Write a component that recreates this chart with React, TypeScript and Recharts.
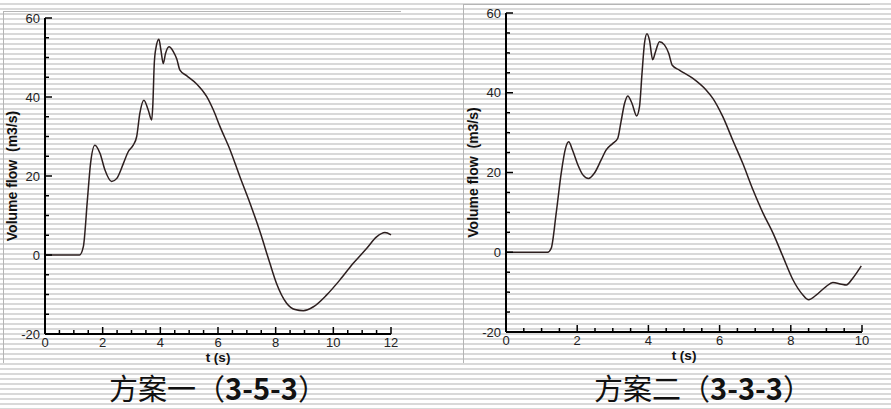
import React from 'react';
import { LineChart, Line, XAxis, YAxis } from 'recharts';

// ---- 方案一 (3-5-3) ----
const time1 = [0, 1.2, 1.33, 1.47, 1.58, 1.73, 1.91, 2.08, 2.31, 2.49, 2.72, 2.89, 3.06, 3.18, 3.29, 3.43, 3.58, 3.7, 3.74, 3.79, 3.85, 3.95, 4.02, 4.1, 4.18, 4.3, 4.45, 4.57, 4.68, 4.91, 5.26, 5.61, 5.84, 6.07, 6.42, 6.76, 7.11, 7.46, 7.8, 8.03, 8.38, 8.67, 8.96, 9.31, 9.77, 10.23, 10.69, 11.16, 11.5, 11.79, 12.0];
const flow1 = [0, 0, 2.1, 13.9, 23.2, 27.8, 25.7, 21.5, 18.6, 19.4, 23.2, 26.2, 27.8, 30, 35.9, 39.2, 36.7, 34.2, 38, 48.5, 52.5, 54.6, 51.9, 48.5, 51, 52.7, 51.5, 49.6, 46.8, 45.4, 43.3, 40.1, 36.7, 32.5, 26.6, 19.8, 13.1, 5.8, -2.1, -7.2, -12.2, -13.8, -14.1, -13.1, -10.1, -6.3, -2.1, 1.7, 4.6, 5.7, 5.1];
const xTicks1 = [0, 0.5, 1, 1.5, 2, 2.5, 3, 3.5, 4, 4.5, 5, 5.5, 6, 6.5, 7, 7.5, 8, 8.5, 9, 9.5, 10, 10.5, 11, 11.5, 12];

// ---- 方案二 (3-3-3) ----
const time2 = [0, 1.17, 1.27, 1.41, 1.55, 1.67, 1.76, 1.87, 2.02, 2.16, 2.32, 2.48, 2.67, 2.81, 3.0, 3.14, 3.23, 3.33, 3.42, 3.54, 3.67, 3.75, 3.82, 3.89, 3.96, 4.03, 4.12, 4.2, 4.31, 4.45, 4.57, 4.67, 4.87, 5.25, 5.62, 5.81, 6.09, 6.37, 6.65, 6.94, 7.22, 7.5, 7.78, 8.06, 8.34, 8.5, 8.72, 8.99, 9.18, 9.42, 9.56, 9.74, 9.98];
const flow2 = [0, 0, 1, 9.8, 19.8, 26, 27.7, 25.6, 21.9, 19.4, 18.5, 19.8, 23.1, 25.6, 27.3, 28.6, 32.7, 37.3, 39.2, 37.3, 34.2, 36.5, 44.8, 52.4, 54.8, 53.2, 48.3, 50.3, 52.8, 52, 49.9, 46.9, 45.7, 43.6, 40.7, 38.6, 34, 28.1, 22.3, 15.6, 9.8, 4.8, -1.1, -6.9, -10.7, -11.9, -10.7, -8.6, -7.6, -8, -8.2, -6.5, -3.4];
const xTicks2 = [0, 0.5, 1, 1.5, 2, 2.5, 3, 3.5, 4, 4.5, 5, 5.5, 6, 6.5, 7, 7.5, 8, 8.5, 9, 9.5, 10];

const yTicks = [-20, -15, -10, -5, 0, 5, 10, 15, 20, 25, 30, 35, 40, 45, 50, 55, 60];

const xTitle = 't (s)';
const yTitle = 'Volume flow  (m3/s)';
const caption1 = '方案一';
const captionOpen = '（';
const caption1c = '3-5-3';
const caption2 = '方案二';
const caption2c = '3-3-3';
const captionEnd = '）';

const data1 = time1.map((t, i) => ({ t, q: flow1[i] }));
const data2 = time2.map((t, i) => ({ t, q: flow2[i] }));

const tickFont = '"Liberation Sans", Arial, sans-serif';

const XTick = (props: any) => {
  const { x, y, payload } = props;
  const v = payload.value;
  const major = v % 2 === 0;
  return (
    <g>
      <line x1={x} x2={x} y1={y} y2={y - (major ? 7 : 4)} stroke="#000" strokeWidth={1.5} />
      {major && (
        <text x={x} y={y + 12.5} textAnchor="middle" fontSize={13} fill="#222" fontFamily={tickFont}>
          {v}
        </text>
      )}
    </g>
  );
};

const YTick = (props: any) => {
  const { x, y, payload } = props;
  const v = payload.value;
  const major = v % 20 === 0;
  return (
    <g>
      <line x1={x} x2={x + (major ? 7 : 4)} y1={y} y2={y} stroke="#000" strokeWidth={1.5} />
      {major && (
        <text x={x - 5} y={y + 4.5} textAnchor="end" fontSize={13} fill="#222" fontFamily={tickFont}>
          {v}
        </text>
      )}
    </g>
  );
};

const XTitle = (props: any) => {
  const vb = props.viewBox || { x: 0, y: 0, width: 0, height: 0 };
  return (
    <text x={vb.x + vb.width / 2} y={vb.y + 28} textAnchor="middle" fontSize={13.5} fontWeight="bold" fill="#111" fontFamily={tickFont} style={{ whiteSpace: 'pre' }}>
      {xTitle}
    </text>
  );
};

const YTitle = (props: any) => {
  const vb = props.viewBox || { x: 0, y: 0, width: 0, height: 0 };
  const cx = vb.x + props.dx;
  const cy = vb.y + vb.height / 2;
  return (
    <text x={cx} y={cy} transform={`rotate(-90 ${cx} ${cy})`} textAnchor="middle" dominantBaseline="central" fontSize={14} fontWeight="bold" fill="#111" fontFamily={tickFont} style={{ whiteSpace: 'pre' }}>
      {yTitle}
    </text>
  );
};

const Chart = ({ data, xTicks, xMax, width, margin, yWidth, xHeight, titleDx }: any) => (
  <LineChart width={width} height={370} data={data} margin={margin}>
    <XAxis
      dataKey="t"
      type="number"
      domain={[0, xMax]}
      ticks={xTicks}
      interval={0}
      tickSize={0}
      tickMargin={0}
      tickLine={false}
      height={xHeight}
      axisLine={{ stroke: '#000', strokeWidth: 2 }}
      tick={(p: any) => <XTick {...p} />}
      label={<XTitle />}
    />
    <YAxis
      type="number"
      domain={[-20, 60]}
      ticks={yTicks}
      interval={0}
      tickSize={0}
      tickMargin={0}
      tickLine={false}
      width={yWidth}
      axisLine={{ stroke: '#000', strokeWidth: 2 }}
      tick={(p: any) => <YTick {...p} />}
      label={<YTitle dx={titleDx} />}
    />
    <Line type="monotone" dataKey="q" stroke="#2d1f1f" strokeWidth={1.5} dot={false} isAnimationActive={false} />
  </LineChart>
);

const captionStyle: React.CSSProperties = {
  position: 'absolute',
  top: 372,
  width: 420,
  textAlign: 'center',
  fontSize: 29,
  lineHeight: '30px',
  color: '#111',
  fontFamily: '"Noto Sans CJK SC", sans-serif',
  whiteSpace: 'pre',
};

export default function App() {
  return (
    <div
      style={{
        position: 'absolute',
        left: 0,
        top: 0,
        width: 891,
        height: 409,
        overflow: 'hidden',
        background: 'repeating-linear-gradient(to bottom, #ffffff 0px, #ffffff 3px, #d9d9d9 3px, #d9d9d9 5px)',
      }}
    >
      <div style={{ position: 'absolute', left: 3, top: 11, width: 397, height: 351, borderTop: '1px solid #b5b5b5', borderLeft: '1px solid #b5b5b5' }} />
      <div style={{ position: 'absolute', left: 463, top: 4, width: 406, height: 358, borderTop: '1px solid #b5b5b5', borderLeft: '1px solid #b5b5b5' }} />
      <div style={{ position: 'absolute', left: 0, top: 0 }}>
        <Chart data={data1} xTicks={xTicks1} xMax={12} width={420} margin={{ top: 18, right: 29, bottom: 0, left: 0 }} yWidth={45} xHeight={36} titleDx={12} />
      </div>
      <div style={{ position: 'absolute', left: 446, top: 0 }}>
        <Chart data={data2} xTicks={xTicks2} xMax={10} width={430} margin={{ top: 13, right: 14, bottom: 0, left: 0 }} yWidth={60} xHeight={38} titleDx={27} />
      </div>
      <div style={{ ...captionStyle, left: 8 }}>
        {caption1}
        {captionOpen}
        <b>{caption1c}</b>
        {captionEnd}
      </div>
      <div style={{ ...captionStyle, left: 493 }}>
        {caption2}
        {captionOpen}
        <b>{caption2c}</b>
        {captionEnd}
      </div>
    </div>
  );
}
